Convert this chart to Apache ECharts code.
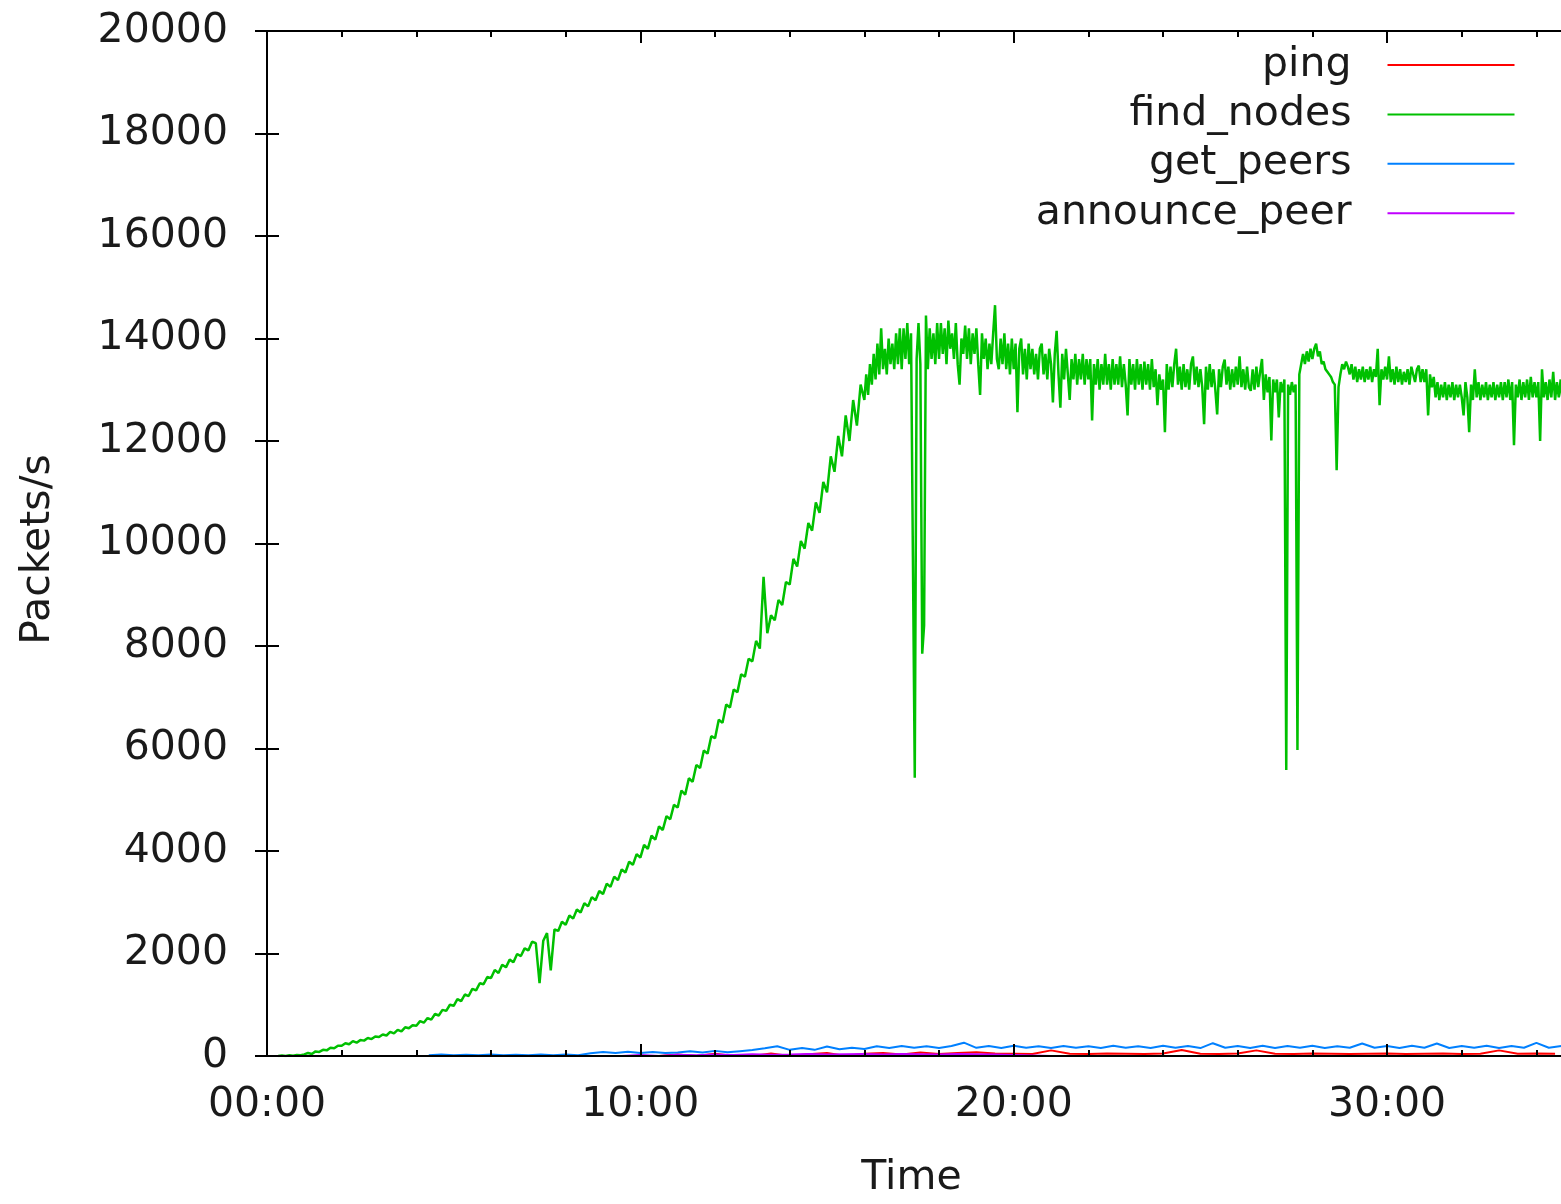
<!DOCTYPE html>
<html>
<head>
<meta charset="utf-8">
<script src="https://cdn.jsdelivr.net/npm/echarts@6/dist/echarts.min.js"></script>
<style>
html,body{margin:0;padding:0;background:#fff;overflow:hidden;width:100%;height:100%;}
#c{position:fixed;left:0;top:0;width:1580px;height:1204px;}
</style>
</head>
<body>
<div id="c"></div>
<script>
// ---- data (time in seconds, values in packets/s) ----
const xMaxSec = 2094;
const yTicks = [0, 2000, 4000, 6000, 8000, 10000, 12000, 14000, 16000, 18000, 20000];
const seriesNames = ['ping', 'find_nodes', 'get_peers', 'announce_peer'];

// find_nodes, ramp part: one sample every 6 s from 18 s (one row per minute)
const rampStart = 18, rampStep = 6;
const findNodesRamp = [
  0, 10, 0, 15, 5, 20, 15,
  30, 60, 40, 90, 80, 120, 110, 160, 150, 200,
  200, 250, 230, 290, 260, 310, 300, 350, 330, 380,
  370, 420, 400, 470, 440, 510, 480, 560, 540, 600,
  590, 680, 650, 740, 710, 820, 790, 900, 880, 1000,
  980, 1110, 1070, 1200, 1170, 1310, 1280, 1420, 1400, 1540,
  1520, 1680, 1620, 1780, 1730, 1880, 1830, 1990, 1950, 2100,
  2060, 2230, 2200, 1420, 2250, 2400, 1670, 2470, 2440, 2620,
  2560, 2740, 2680, 2860, 2800, 2980, 2920, 3100, 3040, 3220,
  3160, 3360, 3300, 3500, 3430, 3640, 3580, 3790, 3730, 3940,
  3870, 4120, 4040, 4300, 4220, 4480, 4410, 4680, 4620, 4900,
  4850, 5180, 5100, 5420, 5350, 5680, 5620, 5960, 5900, 6240,
  6200, 6560, 6500, 6860, 6800, 7150, 7100, 7450, 7400, 7750,
  7700, 8100, 7950, 9350, 8250, 8600, 8500, 8900, 8800, 9250,
  9200, 9700, 9550, 10050, 9900, 10400, 10250, 10800, 10600, 11200,
  11000, 11700, 11400, 12100, 11700, 12500, 12000, 12800, 12300, 13100
];

// find_nodes, plateau part: one sample every 3 s from 960 s (one row per minute)
const plateauStart = 960, plateauStep = 3;
const findNodesPlateau = [
  12800, 13300, 12900, 13500, 13100, 13700, 13200, 13900, 13300, 14200, 13400, 13800, 13300, 14000, 13500, 13900, 13400, 14100, 13500, 14200,
  13400, 14200, 13600, 14300, 13500, 14100, 9750, 5430, 13600, 14300, 13500, 7850, 8400, 14450, 13400, 14200, 13600, 14100, 13500, 14300,
  13600, 14300, 13700, 14200, 13500, 14350, 13800, 14100, 13600, 14300, 13500, 13100, 14000, 13700, 14250, 13600, 14200, 13500, 14100, 13700,
  14200, 13500, 12900, 14100, 13600, 14000, 13400, 13900, 13500, 14100, 14650, 13600, 13400, 14000, 13500, 14100, 13400, 13900, 13300, 14000,
  13400, 13900, 12560, 13800, 14000, 13300, 13800, 13200, 13900, 13400, 13800, 13300, 13700, 13200, 13800, 13900, 13300, 13700, 13200, 13800,
  13500, 12750, 13700, 14150, 13300, 12650, 13700, 13200, 13800, 13300, 12800, 13600, 13200, 13700, 13100, 13600, 13200, 13700, 13100, 13600,
  13200, 13600, 12400, 13500, 13100, 13600, 13000, 13500, 13100, 13700, 13100, 13500, 13000, 13600, 13100, 13500, 13100, 13650, 13050, 13500,
  13100, 12500, 13600, 13100, 13500, 13000, 13600, 13100, 13500, 13000, 13550, 13100, 13500, 13000, 13600, 13050, 13400, 12700, 13300, 13000,
  13200, 12170, 13500, 13000, 13450, 13050, 13500, 13800, 13100, 13450, 13000, 13500, 13050, 13400, 13000, 13500, 13650, 13100, 13450, 13050,
  13400, 13050, 12330, 13450, 13000, 13500, 13050, 13400, 13000, 12520, 13400, 13050, 13450, 13590, 13100, 13450, 13000, 13400, 13050, 13450,
  13100, 13650, 13050, 13400, 13000, 13450, 13050, 12980, 13400, 13000, 13450, 13050, 13350, 13600, 12800, 13300, 12950, 13250, 12010, 13200,
  12950, 13200, 12460, 13150, 12950, 13200, 5580, 13100, 12900, 13150, 12950, 13100, 5970, 13300, 13500, 13700, 13500, 13750, 13550, 13800,
  13600, 13800, 13900, 13650, 13750, 13500, 13550, 13400, 13350, 13300, 13250, 13150, 13100, 11430, 13050, 13300, 13500, 13400, 13550, 13450,
  13300, 13500, 13200, 13450, 13150, 13400, 13200, 13450, 13150, 13400, 13200, 13450, 13150, 13400, 13250, 13800, 12700, 13400, 13200, 13450,
  13200, 13650, 13150, 13400, 13100, 13450, 13150, 13400, 13100, 13350, 13150, 13400, 13100, 13450, 13470, 13150, 13400, 13470, 13150, 13400,
  13150, 13400, 12500, 13300, 13050, 13250, 12850, 13150, 12800, 13100, 12850, 13150, 12800, 13100, 12850, 13150, 12800, 13100, 12850, 13100,
  12850, 12500, 13150, 12850, 12170, 13100, 12800, 13400, 12850, 13150, 12800, 13100, 12850, 13150, 12800, 13100, 12850, 13150, 12800, 13100,
  12850, 13150, 12800, 13150, 12850, 13200, 12800, 13150, 11920, 13100, 12850, 13200, 12800, 13150, 12850, 13200, 12800, 13250, 12850, 13150,
  12850, 13150, 12000, 13400, 12850, 13150, 12800, 13200, 12850, 13350, 12800, 13150, 12850, 13200, 12800, 13150, 12850, 13100, 12950
];

// get_peers: one sample every 20 s starting at 260 s
const getPeersStart = 260, getPeersStep = 20;
const getPeers = [
  15, 30, 15, 25, 15, 30, 15, 25,
  15, 30, 15, 30, 15,
  55, 80, 60, 85, 60, 80, 60,
  70, 95, 70, 100, 75, 95,
  115, 150, 190, 120, 155, 120, 185, 130, 160, 135,
  190, 155, 195, 160, 190, 155, 195, 260, 160, 195,
  155, 200, 160, 190, 155, 195, 160, 190, 155, 200,
  160, 190, 155, 200, 160, 195, 155, 250, 160, 195,
  155, 200, 155, 195, 160, 200, 155, 190, 160, 245,
  160, 195, 155, 200, 160, 245, 155, 195, 160, 200,
  155, 195, 160, 255, 160, 195
];

// ping: one sample every 30 s starting at 630 s
const pingStart = 630, pingStep = 30;
const ping = [
  0, 30, 0, 45, 0, 0, 50, 0, 35, 60, 0, 45, 60, 30, 70, 40, 60, 75, 50,
  45, 40, 110, 45, 40, 50, 45, 40, 50, 115, 45, 40, 50, 110, 45, 40, 50, 45, 40, 45,
  50, 40, 45, 50, 40, 45, 110, 45, 50, 45
];

// announce_peer: one sample every 30 s starting at 330 s
const announceStart = 330, announceStep = 30;
const announcePeer = [
  0, 0, 0, 0, 0, 0, 0, 0, 0,
  20, 0, 25, 15, 30, 20, 35, 25, 30, 40, 30, 35, 40, 30, 40, 35, 30, 40, 35, 30,
  20, 10, 0, 0, 0, 0, 0, 0, 0, 0, 0, 0, 0, 0, 0, 0, 0, 0, 0, 0, 0, 0, 0, 0, 0, 0, 0, 0, 0, 0
];

const colors = ['#ff0000', '#00c000', '#0080ff', '#c000ff'];

// ---- chart ----
function toPairs(start, step, vals) {
  return vals.map((v, i) => [start + i * step, v]);
}
function mmss(v) {
  const m = Math.floor(v / 60), s = Math.round(v % 60);
  return String(m).padStart(2, '0') + ':' + String(s).padStart(2, '0');
}
const FONT = 'DejaVu Sans';
const TXT = '#1a1a1a';
const lineSt = { color: '#000', width: 2 };

function xAx(pos, interval, len, main) {
  return {
    type: 'value', position: pos, min: 0, max: xMaxSec, interval: interval, z: 10,
    axisLine: { show: main, lineStyle: lineSt },
    axisTick: { show: true, inside: true, length: len, lineStyle: lineSt },
    axisLabel: (main && pos === 'bottom') ? {
      show: true, formatter: mmss, fontSize: 41, fontFamily: FONT, color: TXT,
      margin: 29, showMaxLabel: false
    } : { show: false },
    splitLine: { show: false }
  };
}
const xAxes = [xAx('bottom', 600, 12, true), xAx('bottom', 120, 6, false),
               xAx('top', 600, 12, true), xAx('top', 120, 6, false)];
xAxes[0].name = 'Time';
xAxes[0].nameLocation = 'middle';
xAxes[0].nameGap = 102;
xAxes[0].nameTextStyle = { fontSize: 41, fontFamily: FONT, color: TXT, padding: [0, 14, 0, 0] };

const yAxes = [
  {
    type: 'value', position: 'left', min: yTicks[0], max: yTicks[yTicks.length - 1],
    interval: yTicks[1] - yTicks[0], z: 10,
    axisLine: { show: true, lineStyle: lineSt },
    axisTick: { show: true, inside: true, length: 12, lineStyle: lineSt },
    axisLabel: { fontSize: 41, fontFamily: FONT, color: TXT, margin: 39, formatter: v => String(v) },
    splitLine: { show: false },
    name: 'Packets/s', nameLocation: 'middle', nameGap: 208,
    nameTextStyle: { fontSize: 41, fontFamily: FONT, color: TXT, padding: [0, 12, 0, 0] }
  },
  {
    type: 'value', position: 'right', min: yTicks[0], max: yTicks[yTicks.length - 1],
    interval: yTicks[1] - yTicks[0], z: 10,
    axisLine: { show: true, lineStyle: lineSt },
    axisTick: { show: true, inside: true, length: 12, lineStyle: lineSt },
    axisLabel: { show: false },
    splitLine: { show: false }
  }
];

const dataSets = [
  toPairs(pingStart, pingStep, ping),
  toPairs(rampStart, rampStep, findNodesRamp).concat(toPairs(plateauStart, plateauStep, findNodesPlateau)),
  toPairs(getPeersStart, getPeersStep, getPeers),
  toPairs(announceStart, announceStep, announcePeer)
];

const chart = echarts.init(document.getElementById('c'), null, { renderer: 'canvas' });
chart.setOption({
  animation: false,
  backgroundColor: '#ffffff',
  grid: { left: 267, top: 31, height: 1032, right: 10, containLabel: false },
  legend: {
    data: seriesNames, orient: 'vertical', right: 65.5, top: 44.5, align: 'right',
    icon: 'rect', itemWidth: 127, itemHeight: 2, itemGap: 8.4, padding: 0,
    selectedMode: false,
    textStyle: { fontSize: 41, fontFamily: FONT, color: TXT, lineHeight: 41, padding: [0, 31, 0, 0] }
  },
  xAxis: xAxes,
  yAxis: yAxes,
  series: seriesNames.map((n, i) => ({
    name: n, type: 'line', xAxisIndex: 0, yAxisIndex: 0,
    data: dataSets[i], showSymbol: false, symbol: 'none',
    color: colors[i],
    lineStyle: { width: i === 1 ? 2.5 : 2, color: colors[i] },
    sampling: null, z: 2
  }))
});
</script>
</body>
</html>
